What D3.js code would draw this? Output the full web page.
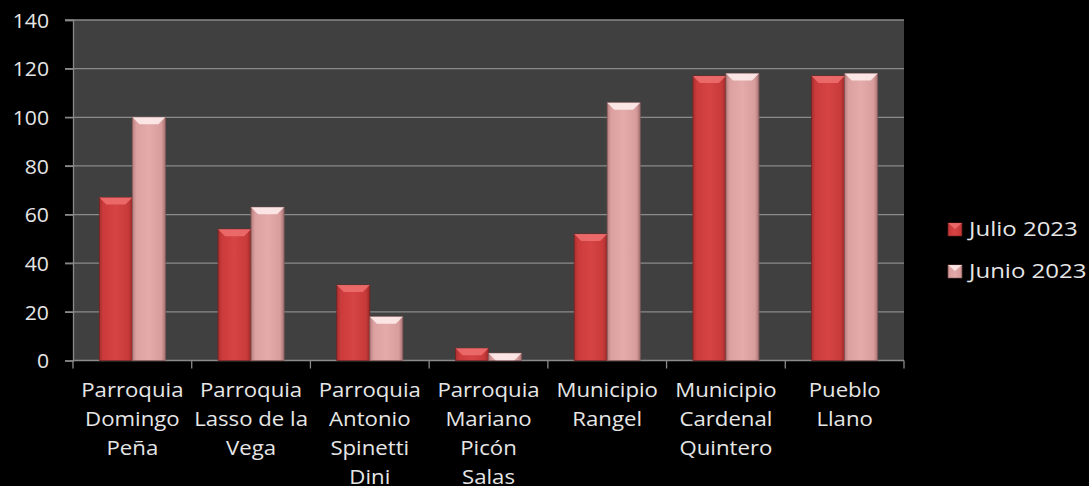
<!DOCTYPE html>
<html><head><meta charset="utf-8">
<script src="https://cdn.jsdelivr.net/npm/d3@7"></script>
<style>
html,body{margin:0;padding:0;background:#000;}
svg{display:block;}
text{font-family:"Open Sans",sans-serif;fill:#e6e6e6;}
</style></head>
<body><svg id="c" width="1089" height="486"></svg>
<script>
const categories = [
  ["Parroquia","Domingo","Peña"],
  ["Parroquia","Lasso de la","Vega"],
  ["Parroquia","Antonio","Spinetti","Dini"],
  ["Parroquia","Mariano","Picón","Salas"],
  ["Municipio","Rangel"],
  ["Municipio","Cardenal","Quintero"],
  ["Pueblo","Llano"]
];
const julio = [67, 54, 31, 5, 52, 117, 117];
const junio = [100, 63, 18, 3, 106, 118, 118];
const seriesNames = ["Julio 2023", "Junio 2023"];
const yTicks = [0, 20, 40, 60, 80, 100, 120, 140];

const svg = d3.select("#c");
const W = 1089, H = 486;
const m = {l:73, r:W-904, t:20, b:H-360.5};
const x0 = d3.scaleBand().domain(d3.range(categories.length)).range([m.l, W-m.r]).paddingInner(0).paddingOuter(0);
const y = d3.scaleLinear().domain([0,140]).range([H-m.b, m.t]);
const bw = 33;

const defs = svg.append("defs");
function grad(id, stops){
  const g = defs.append("linearGradient").attr("id", id).attr("x1","0").attr("x2","1").attr("y1","0").attr("y2","0");
  stops.forEach(s=>g.append("stop").attr("offset", s[0]).attr("stop-color", s[1]));
}
grad("gRed", [[0,"#a83030"],[0.12,"#cc3b3b"],[0.5,"#d64444"],[0.88,"#c83a3a"],[1,"#9a2a2a"]]);
grad("gPink", [[0,"#b88080"],[0.12,"#dca0a0"],[0.5,"#e4abab"],[0.88,"#d89c9c"],[1,"#a87474"]]);

// plot background
svg.append("rect").attr("x", m.l).attr("y", m.t).attr("width", W-m.r-m.l).attr("height", y(0)-m.t).attr("fill","#404040");

// gridlines
svg.append("g").selectAll("line").data(yTicks.filter(d=>d>0)).join("line")
  .attr("x1", m.l-8).attr("x2", W-m.r).attr("y1", d=>y(d)).attr("y2", d=>y(d))
  .attr("stroke","#8a8a8a").attr("stroke-width",1.3);

// y axis
const yAxis = d3.axisLeft(y).tickValues(yTicks).tickSize(8).tickPadding(0);
const ya = svg.append("g").attr("transform",`translate(${m.l},0)`).call(yAxis);
ya.select(".domain").attr("stroke","#8a8a8a").attr("stroke-width",1.3);
ya.selectAll(".tick line").attr("stroke","#8a8a8a").attr("stroke-width",1.3);
ya.selectAll(".tick text").attr("font-size",20).attr("fill","#e6e6e6").attr("x",0).attr("dy","0.36em")
  .attr("transform","translate(-24,0) scale(1.06,1)")
  .style("font-family","'Open Sans',sans-serif");

// x axis
const xa = svg.append("g").attr("transform",`translate(0,${y(0)})`);
xa.append("line").attr("x1", m.l).attr("x2", W-m.r).attr("stroke","#8a8a8a").attr("stroke-width",1.5);
xa.selectAll("line.t").data(d3.range(categories.length+1)).join("line").attr("class","t")
  .attr("x1", i=>m.l + i*x0.bandwidth()).attr("x2", i=>m.l + i*x0.bandwidth())
  .attr("y1",0).attr("y2",8).attr("stroke","#8a8a8a").attr("stroke-width",1.3);
categories.forEach((lines,i)=>{
  const t = xa.append("text").attr("text-anchor","middle").attr("font-size",20)
    .attr("transform",`translate(${x0(i)+x0.bandwidth()/2},0) scale(1.11,1)`);
  lines.forEach((ln,j)=>t.append("tspan").attr("x",0).attr("y", 37 + j*28.7).text(ln));
});

// bars
const offs = [-bw, 0];
const data = [julio, junio];
const fills = ["url(#gRed)","url(#gPink)"];
const tops = ["#f07070","#fff0f0"];
const strokes = ["#7a2020","#8a5a5a"];
data.forEach((vals,s)=>{
  const g = svg.append("g");
  vals.forEach((v,i)=>{
    const cx = x0(i)+x0.bandwidth()/2 + offs[s];
    const yt = y(v), yb = y(0);
    g.append("rect").attr("x",cx).attr("y",yt).attr("width",bw).attr("height",yb-yt)
      .attr("fill",fills[s]).attr("stroke",strokes[s]).attr("stroke-width",0.8);
    const bev = Math.min(7, (yb-yt));
    g.append("path").attr("d",`M${cx},${yt}L${cx+bw},${yt}L${cx+bw-7},${yt+bev}L${cx+7},${yt+bev}Z`)
      .attr("fill",tops[s]).attr("opacity",0.85);
  });
});

// legend
const lg = svg.append("g");
seriesNames.forEach((n,i)=>{
  const yy = 223 + i*42;
  lg.append("rect").attr("x",948).attr("y",yy).attr("width",14).attr("height",13).attr("fill",fills[i]).attr("stroke",strokes[i]).attr("stroke-width",0.6);
  lg.append("path").attr("d",`M948,${yy}L962,${yy}L955,${yy+6}Z`).attr("fill",tops[i]).attr("opacity",0.8);
  lg.append("text").attr("x",0).attr("y",0).attr("font-size",20)
    .attr("transform",`translate(969,${yy+13}) scale(1.2,1)`).text(n);
});
</script></body></html>
